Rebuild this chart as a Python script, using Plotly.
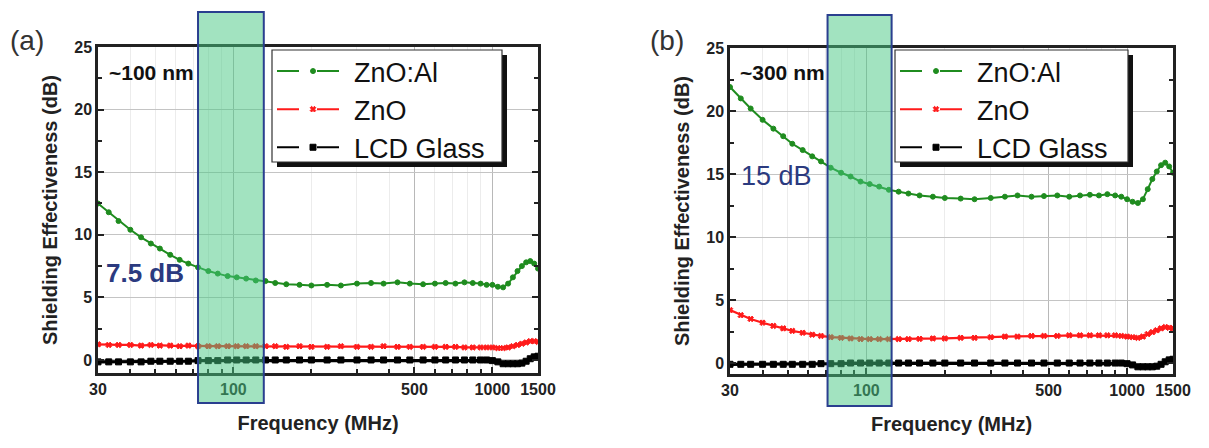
import numpy as np
import plotly.graph_objects as go

# ---------------- data ----------------
freq = [30, 33, 36, 40, 44, 48, 52, 57, 62, 67, 73, 80, 87, 95, 103, 112, 122, 133,
        145, 160, 180, 200, 230, 260, 300, 340, 380, 430, 480, 540, 600, 660, 720,
        780, 840, 900, 950, 1000, 1050, 1100, 1150, 1200, 1250, 1300, 1350, 1400,
        1450, 1500]

a_znoal = [12.5, 11.8, 11.1, 10.4, 9.8, 9.3, 8.9, 8.4, 8.0, 7.7, 7.4, 7.1, 6.9, 6.7,
           6.6, 6.5, 6.35, 6.3, 6.15, 6.05, 6.0, 5.95, 6.0, 5.95, 6.1, 6.15, 6.1, 6.2,
           6.1, 6.05, 6.1, 6.15, 6.1, 6.2, 6.15, 6.1, 6.0, 6.0, 5.85, 5.8, 6.1, 6.6,
           7.1, 7.5, 7.8, 7.9, 7.7, 7.3]
a_zno = [1.25, 1.2, 1.2, 1.2, 1.15, 1.2, 1.15, 1.15, 1.1, 1.15, 1.1, 1.1, 1.1, 1.1,
         1.1, 1.1, 1.1, 1.1, 1.1, 1.05, 1.1, 1.05, 1.05, 1.1, 1.05, 1.05, 1.1, 1.05,
         1.05, 1.05, 1.05, 1.05, 1.05, 1.0, 1.0, 1.0, 1.0, 1.0, 0.95, 0.95, 1.0, 1.1,
         1.2, 1.3, 1.4, 1.5, 1.5, 1.45]
a_lcd = [-0.15, -0.15, -0.15, -0.15, -0.15, -0.1, -0.1, -0.1, -0.1, -0.1, -0.05, -0.05,
         -0.05, 0.0, 0.0, 0.0, 0.0, 0.0, 0.0, 0.0, 0.0, 0.0, 0.0, 0.0, 0.0, 0.0, 0.0,
         0.0, 0.0, 0.0, 0.0, 0.0, 0.0, 0.0, 0.0, 0.0, 0.0, -0.05, -0.15, -0.3, -0.3,
         -0.3, -0.3, -0.25, -0.1, 0.1, 0.25, 0.3]

b_znoal = [21.9, 21.0, 20.2, 19.3, 18.6, 18.0, 17.4, 16.9, 16.4, 16.0, 15.5, 15.1, 14.8,
           14.4, 14.2, 14.0, 13.75, 13.6, 13.45, 13.3, 13.2, 13.1, 13.05, 13.0, 13.1,
           13.2, 13.3, 13.2, 13.25, 13.3, 13.2, 13.3, 13.35, 13.3, 13.4, 13.3, 13.2,
           13.0, 12.8, 12.7, 13.0, 13.8, 14.6, 15.2, 15.7, 15.9, 15.6, 15.1]
b_zno = [4.2, 3.8, 3.5, 3.2, 2.95, 2.75, 2.55, 2.4, 2.25, 2.15, 2.05, 2.0, 1.95, 1.9,
         1.9, 1.9, 1.9, 1.9, 1.9, 1.92, 1.95, 1.95, 2.0, 2.0, 2.05, 2.1, 2.1, 2.15,
         2.15, 2.15, 2.2, 2.2, 2.2, 2.2, 2.2, 2.2, 2.15, 2.1, 2.05, 2.0, 2.1, 2.3,
         2.45, 2.6, 2.75, 2.85, 2.8, 2.75]
b_lcd = [-0.1, -0.1, -0.1, -0.1, -0.1, -0.1, -0.1, -0.1, -0.1, -0.05, -0.05, -0.05,
         0.0, 0.0, 0.0, 0.0, 0.0, 0.0, 0.0, 0.0, 0.0, 0.0, 0.0, 0.0, 0.0, 0.0, 0.0,
         0.0, 0.0, 0.0, 0.0, 0.0, 0.0, 0.0, 0.0, 0.0, 0.0, -0.05, -0.15, -0.3, -0.3,
         -0.3, -0.3, -0.25, -0.1, 0.1, 0.25, 0.3]

series_names = ["ZnO:Al", "ZnO", "LCD Glass"]
x_tick_vals = [30, 100, 500, 1000, 1500]
x_tick_text = ["30", "100", "500", "1000", "1500"]
x_minor_vals = [40, 50, 60, 70, 80, 90, 200, 300, 400, 500, 600, 700, 800, 900]
y_tick_vals = [0, 5, 10, 15, 20, 25]
band_a = [73, 131]     # highlighted frequency band, panel (a)
band_b = [71, 125]     # highlighted frequency band, panel (b)
labels_thickness = ["~100 nm", "~300 nm"]
labels_se = ["7.5 dB", "15 dB"]

# ---------------- styling ----------------
PAGE_W, PAGE_H, OFF = 1209, 448, 8     # page body has an 8px margin
W, H = PAGE_W - OFF, PAGE_H - OFF
colors = ["#1f8c1f", "#ff1a1a", "#000000"]
symbols = ["circle", "x", "square"]
msizes = [5, 5, 6]
lwidths = [2, 2.2, 3.2]
FONT = "Liberation Sans, Arial, sans-serif"


def px(x):
    return (x - OFF) / W


def py(y):
    return 1 - (y - OFF) / H


fig = go.Figure()

panels = [
    dict(xa="x", ya="y", legend="legend", data=[a_znoal, a_zno, a_lcd]),
    dict(xa="x2", ya="y2", legend="legend2", data=[b_znoal, b_zno, b_lcd]),
]
for p in panels:
    for name, vals, c, s, ms, lw in zip(series_names, p["data"], colors, symbols, msizes, lwidths):
        # plotted curve
        fig.add_trace(go.Scatter(
            x=freq, y=vals, name=name, mode="lines+markers", showlegend=False,
            line=dict(color=c, width=lw),
            marker=dict(color=c, symbol=s, size=ms, line=dict(width=1, color=c)),
            xaxis=p["xa"], yaxis=p["ya"],
        ))
        # legend entry ("— • —" sample)
        fig.add_trace(go.Scatter(
            x=[None], y=[None], name=name, mode="lines+markers",
            line=dict(color=c, width=2, dash="22px,18px"),
            marker=dict(color=c, symbol=s, size=ms, line=dict(width=1, color=c)),
            xaxis=p["xa"], yaxis=p["ya"], legend=p["legend"],
        ))

xaxis_common = dict(
    type="log", range=[np.log10(30), np.log10(1500)],
    tickvals=x_tick_vals, ticktext=x_tick_text,
    ticks="inside", ticklen=6, tickwidth=1.5, tickcolor="#222",
    showline=True, linecolor="#222", linewidth=2.5, mirror=True,
    showgrid=True, gridcolor="#b8b8b8", gridwidth=1,
    minor=dict(tickvals=x_minor_vals, ticks="inside", ticklen=4, tickcolor="#222",
               showgrid=True, gridcolor="#ececec", gridwidth=1),
    tickfont=dict(family=FONT, size=16, color="#222", weight="bold"),
    title=dict(text="Frequency (MHz)", font=dict(family=FONT, size=20, color="#222",
                                                  weight="bold"), standoff=20),
    zeroline=False, automargin=False,
)
yaxis_common = dict(
    tickvals=y_tick_vals,
    ticks="inside", ticklen=6, tickwidth=1.5, tickcolor="#222",
    showline=True, linecolor="#222", linewidth=2.5, mirror="allticks",
    showgrid=True, gridcolor="#c4c4c4", gridwidth=1,
    minor=dict(dtick=2.5, ticks="inside", ticklen=4, tickcolor="#222", showgrid=False),
    tickfont=dict(family=FONT, size=16, color="#222", weight="bold"),
    title=dict(text="Shielding Effectiveness (dB)",
               font=dict(family=FONT, size=20, color="#222", weight="bold"), standoff=12),
    zeroline=False, automargin=False,
)

legend_common = dict(xanchor="left", yanchor="top",
                     bgcolor="rgba(0,0,0,0)", borderwidth=0,
                     font=dict(family=FONT, size=27, color="#111"), itemwidth=72,
                     tracegroupgap=0)

fig.update_layout(
    width=W, height=H, autosize=False, template="none",
    margin=dict(l=0, r=0, t=0, b=0),
    paper_bgcolor="white", plot_bgcolor="white",
    xaxis=dict(domain=[px(98), px(538)], anchor="y", **xaxis_common),
    yaxis=dict(domain=[py(373), py(47)], anchor="x", range=[-1.04, 25], **yaxis_common),
    xaxis2=dict(domain=[px(730), px(1173)], anchor="y2", **xaxis_common),
    yaxis2=dict(domain=[py(374), py(48)], anchor="x2", range=[-0.87, 25], **yaxis_common),
    legend=dict(x=px(272), y=py(47), **legend_common),
    legend2=dict(x=px(895), y=py(47), **legend_common),
    showlegend=True,
)

# highlighted bands (x in data units, y in paper units so they overhang the axes)
for band, xr, (ytop, ybot) in [(band_a, "x", (12, 403)), (band_b, "x2", (15, 406))]:
    fig.add_shape(type="rect", xref=xr, yref="paper",
                  x0=band[0], x1=band[1], y0=py(ybot), y1=py(ytop),
                  fillcolor="rgba(70,200,130,0.5)",
                  line=dict(color="#2a3f8f", width=2), layer="above")

# legend frames with drop shadows
for x0, x1 in [(272, 502), (895, 1128)]:
    fig.add_shape(type="rect", xref="paper", yref="paper",
                  x0=px(x0 + 5), x1=px(x1 + 5), y0=py(167), y1=py(55),
                  fillcolor="#111", line=dict(width=0), layer="above")
    fig.add_shape(type="rect", xref="paper", yref="paper",
                  x0=px(x0), x1=px(x1), y0=py(162), y1=py(50),
                  fillcolor="white", line=dict(width=1.2, color="#333"), layer="above")

# text annotations
ann = [
    dict(text="(a)", x=px(8), y=py(40), size=28, color="#333", weight="normal"),
    dict(text="(b)", x=px(648), y=py(40), size=28, color="#333", weight="normal"),
    dict(text=labels_thickness[0], x=px(107), y=py(72), size=21, color="#111", weight="bold"),
    dict(text=labels_thickness[1], x=px(738), y=py(73), size=21, color="#111", weight="bold"),
    dict(text=labels_se[0], x=px(104), y=py(273), size=26, color="#2b3a7f", weight="bold"),
    dict(text=labels_se[1], x=px(739), y=py(176), size=27, color="#2b3a7f", weight="normal"),
]
for a in ann:
    fig.add_annotation(text=a["text"], x=a["x"], y=a["y"], xref="paper", yref="paper",
                       xanchor="left", yanchor="middle", showarrow=False,
                       font=dict(family=FONT, size=a["size"], color=a["color"],
                                 weight=a["weight"]))

fig.write_html("out.html")
